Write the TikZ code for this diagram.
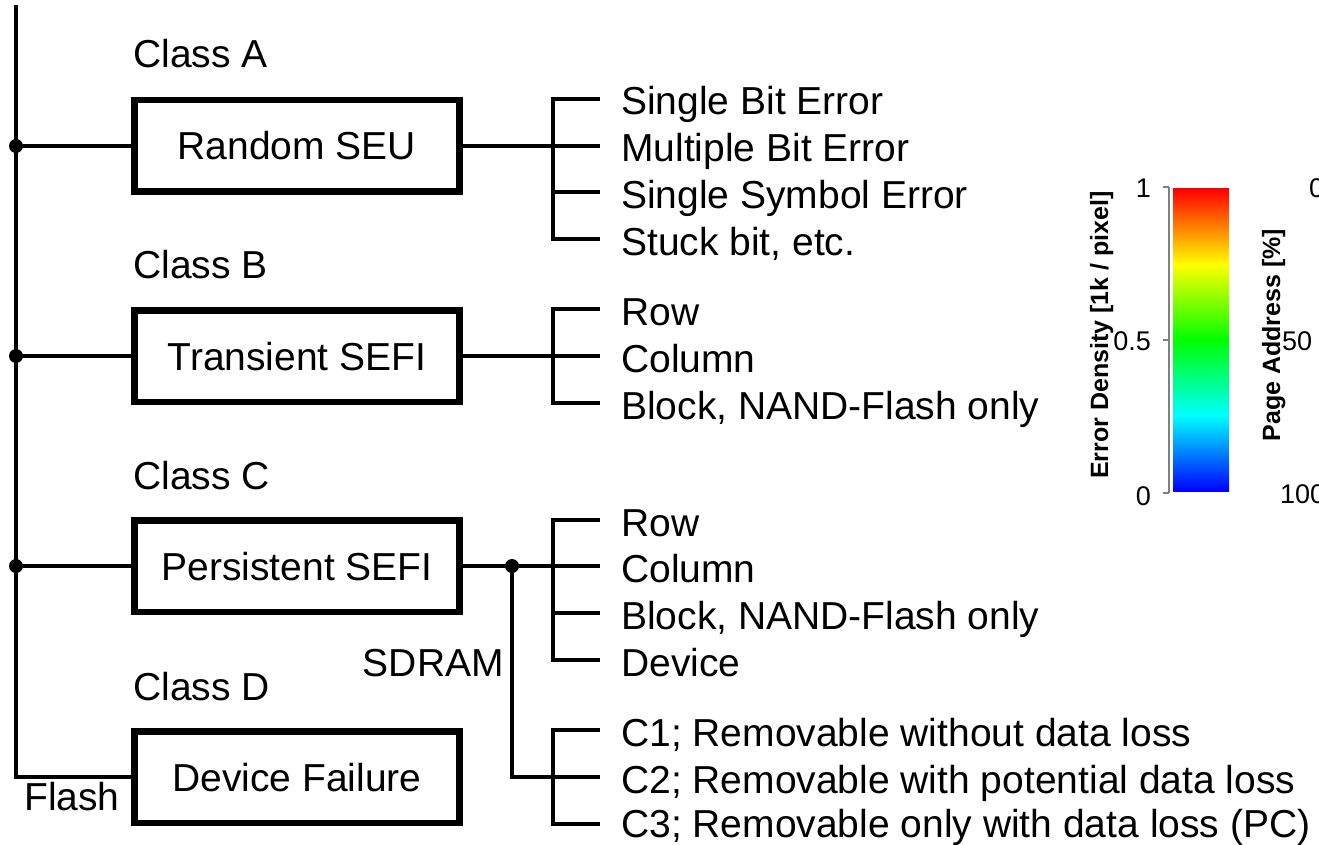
\documentclass[tikz,border=0pt]{standalone}
\usepackage{fontspec}
\setmainfont{Liberation Sans}
\usetikzlibrary{calc}

% jet-like colour ramp for the colour bar (path maps onto 25bp..75bp)
\pgfdeclareverticalshading{jetbar}{100bp}{%
  color(0bp)=(blue); color(25bp)=(blue); color(37.5bp)=(cyan);
  color(50bp)=(green); color(62.5bp)=(yellow); color(75bp)=(red);
  color(100bp)=(red)}

\newcommand{\mainsize}{\fontsize{39}{45}\selectfont}
\newcommand{\barsize}{\fontsize{25}{30}\selectfont}
\newcommand{\ticksize}{\fontsize{27}{32}\selectfont}

\begin{document}
\begin{tikzpicture}[x=1pt,y=-1pt,
  link/.style={line width=4.5pt},
  classbox/.style={draw, line width=6.5pt, minimum width=325pt,
    minimum height=91.5pt, inner sep=0pt, text height=28pt,
    text depth=0pt, font=\mainsize},
  lbl/.style={inner sep=0pt, font=\mainsize},
  item/.style={lbl, anchor=base west},
  junction/.style={fill=black},
  ticklbl/.style={inner sep=0pt, font=\ticksize},
  barlbl/.style={inner sep=0pt, font=\barsize\bfseries, rotate=90, anchor=base}]

\useasboundingbox (0,0) rectangle (1319,845);
\clip (0,0) rectangle (1319,845);

% ---- error classes ----
\node[classbox] (seu)   at (297,146) {Random SEU};
\node[classbox] (tsefi) at (297,356) {Transient SEFI};
\node[classbox] (psefi) at (297,566) {Persistent SEFI};
\node[classbox] (dev)   at (297,777) {Device Failure};

\node[lbl, anchor=base west] (clA) at (133,68)  {Class A};
\node[lbl, anchor=base west] (clB) at (133,278) {Class B};
\node[lbl, anchor=base west] (clC) at (133,489) {Class C};
\node[lbl, anchor=base west] (clD) at (133,700) {Class D};

% ---- main bus on the left ----
\coordinate (busTop) at (16,5);
\coordinate (busA) at (16,146);
\coordinate (busB) at (16,356);
\coordinate (busC) at (16,566);
\coordinate (busEnd) at (16,777);
\draw[link] (busTop) -- (busEnd) -- (dev.west);
\draw[link] (busA) -- (seu.west);
\draw[link] (busB) -- (tsefi.west);
\draw[link] (busC) -- (psefi.west);
\foreach \j in {busA,busB,busC} \fill[junction] (\j) circle (7pt);
\node[lbl, anchor=base west] (flash) at (24,810) {Flash};

% ---- Class A details ----
\coordinate (bA1) at (553,99);  \coordinate (bA2) at (553,146);
\coordinate (bA3) at (553,192); \coordinate (bA4) at (553,239);
\node[item] (a1) at (621,115) {Single Bit Error};
\node[item] (a2) at (621,162) {Multiple Bit Error};
\node[item] (a3) at (621,208) {Single Symbol Error};
\node[item] (a4) at (621,255) {Stuck bit, etc.};
\draw[link] (seu.east) -- (bA2);
\draw[link] (bA1 -| 600,0) -- (bA1) -- (bA4) -- (bA4 -| 600,0);
\draw[link] (bA2) -- (bA2 -| 600,0);
\draw[link] (bA3) -- (bA3 -| 600,0);

% ---- Class B details ----
\coordinate (bB1) at (553,309); \coordinate (bB2) at (553,356);
\coordinate (bB3) at (553,403);
\node[item] (b1) at (621,325) {Row};
\node[item] (b2) at (621,372) {Column};
\node[item] (b3) at (621,419) {Block, NAND-Flash only};
\draw[link] (tsefi.east) -- (bB2);
\draw[link] (bB1 -| 600,0) -- (bB1) -- (bB3) -- (bB3 -| 600,0);
\draw[link] (bB2) -- (bB2 -| 600,0);

% ---- Class C details ----
\coordinate (split) at (512,566);
\coordinate (bC1) at (553,520); \coordinate (bC2) at (553,566);
\coordinate (bC3) at (553,613); \coordinate (bC4) at (553,660);
\node[item] (c1) at (621,536) {Row};
\node[item] (c2) at (621,582) {Column};
\node[item] (c3) at (621,629) {Block, NAND-Flash only};
\node[item] (c4) at (621,676) {Device};
\draw[link] (psefi.east) -- (bC2);
\draw[link] (bC1 -| 600,0) -- (bC1) -- (bC4) -- (bC4 -| 600,0);
\draw[link] (bC2) -- (bC2 -| 600,0);
\draw[link] (bC3) -- (bC3 -| 600,0);
\fill[junction] (split) circle (7pt);

% ---- SDRAM recovery branch ----
\coordinate (sdBend) at (512,777);
\coordinate (bS1) at (553,730); \coordinate (bS2) at (553,777);
\coordinate (bS3) at (553,824);
\node[lbl, anchor=base east] (sdram) at (504,676) {SDRAM};
\node[item] (s1) at (621,746) {C1; Removable without data loss};
\node[item] (s2) at (621,793) {C2; Removable with potential data loss};
\node[item] (s3) at (621,837) {C3; Removable only with data loss (PC)};
\draw[link] (split) -- (sdBend) -- (bS2) -- (bS2 -| 600,0);
\draw[link] (bS1 -| 600,0) -- (bS1) -- (bS3) -- (bS3 -| 600,0);

% ---- colour bar ----
\shade[shading=jetbar] (1173,189) rectangle (1229,491);
\draw[gray, line width=1.2pt] (1169,187) -- (1169,493);
\foreach \yy in {187,340,493} \draw[gray, line width=1.2pt] (1163,\yy) -- (1169,\yy);
\node[ticklbl, anchor=base east] (t1) at (1151,197) {1};
\node[ticklbl, anchor=base east] (t05) at (1151,350) {0.5};
\node[ticklbl, anchor=base east] (t0) at (1151,505) {0};
\node[barlbl] (edens) at (1108,335) {Error Density [1k / pixel]};
\node[barlbl] (paddr) at (1280,335) {Page Address [\%]};
\node[ticklbl, anchor=base west] (r0) at (1309,197) {0};
\node[ticklbl, anchor=base west] (r50) at (1282,350) {50};
\node[ticklbl, anchor=base west] (r100) at (1280,503) {100};
\end{tikzpicture}
\end{document}
